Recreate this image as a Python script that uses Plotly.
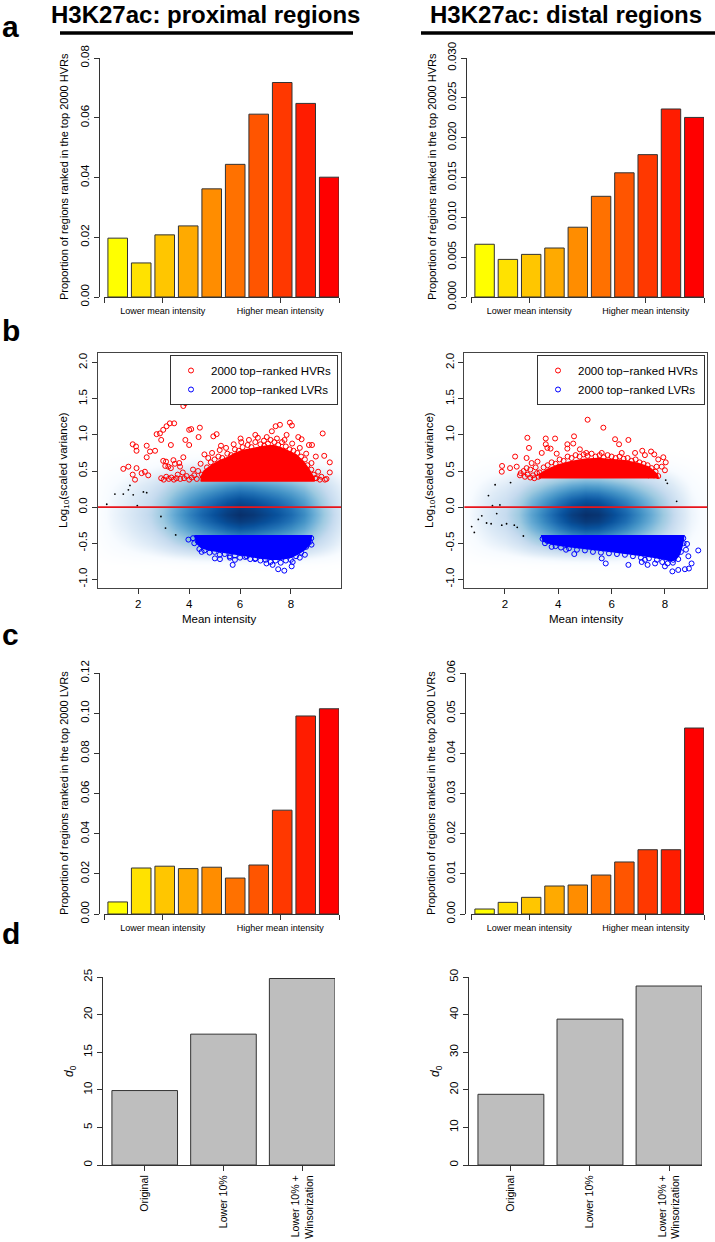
import plotly.graph_objects as go
import numpy as np

W, H = 715, 1242
FONT = "Liberation Sans, Arial, sans-serif"

# ---------------- data ----------------
bins = list(range(1, 11))
hvr_prox = [0.0197, 0.0114, 0.0208, 0.0238, 0.0362, 0.0444, 0.0612, 0.0718, 0.0648, 0.0401]
hvr_dist = [0.00662, 0.00472, 0.00535, 0.00615, 0.00876, 0.01264, 0.01559, 0.01787, 0.02360, 0.02254]
lvr_prox = [0.0060, 0.0229, 0.0238, 0.0226, 0.0233, 0.0179, 0.0244, 0.0517, 0.0986, 0.1022]
lvr_dist = [0.00124, 0.0029, 0.00415, 0.00697, 0.00722, 0.0097, 0.01295, 0.0160, 0.0160, 0.0463]
bin_colors = ["#FFFF00", "#FFE200", "#FFC600", "#FFAA00", "#FF8D00",
              "#FF7100", "#FF5500", "#FF3800", "#FF1C00", "#FF0000"]
intensity_ticks = [2.9167, 7.9167]
intensity_labels = ["Lower mean intensity", "Higher mean intensity"]
intensity_end_ticks = [0.4167, 10.4167]

d0_methods = ["Original", "Lower 10%", "Lower 10% +<br>Winsorization"]
d0_prox = [9.9, 17.4, 24.8]
d0_dist = [18.8, 38.8, 47.6]

# density cloud profiles
dens_x = [0.0, 0.5, 1.0, 1.5, 2.0, 2.5, 3.0, 3.5, 4.0, 4.5, 5.0, 5.5, 6.0, 6.5, 7.0, 7.5, 8.0, 8.5, 9.0, 9.5, 10.0]
dens_y = [-1.2, -1.1, -1.0, -0.9, -0.8, -0.7, -0.6, -0.5, -0.4, -0.3, -0.2, -0.1, 0.0, 0.1, 0.2, 0.3, 0.4, 0.5, 0.6, 0.7, 0.8, 0.9]
prox_dens_xprof = [0.0, 0.05, 0.12, 0.18, 0.25, 0.33, 0.45, 0.58, 0.7, 0.8, 0.88, 0.95, 1.0, 0.97, 0.92, 0.86, 0.78, 0.67, 0.52, 0.36, 0.2]
prox_dens_yprof = [0, 0, 0, 0, 0.03, 0.18, 0.38, 0.56, 0.72, 0.85, 0.95, 1.0, 0.96, 0.88, 0.78, 0.66, 0.5, 0.32, 0.16, 0.06, 0.01, 0]
dist_dens_xprof = [0.0, 0.06, 0.14, 0.22, 0.3, 0.42, 0.58, 0.72, 0.84, 0.94, 1.0, 0.98, 0.9, 0.8, 0.68, 0.55, 0.4, 0.25, 0.12, 0.05, 0.02]
dist_dens_yprof = [0, 0, 0, 0, 0.03, 0.16, 0.36, 0.55, 0.72, 0.86, 0.96, 1.0, 0.95, 0.86, 0.74, 0.6, 0.44, 0.27, 0.12, 0.04, 0, 0]

# HVR / LVR points, proximal
prox_hvr_x = [1.41, 1.61, 1.78, 1.87, 1.78, 1.91, 1.93, 1.93, 2.33, 2.33, 2.46, 2.13, 2.26, 2.39, 2.66, 2.72, 2.85, 2.98, 3.11, 3.24,
              3.41, 2.90, 2.98, 3.06, 3.28, 3.28, 3.38, 3.61, 3.77, 3.77, 3.85, 3.85, 4.0, 4.0, 4.08, 4.42, 4.37, 4.95, 5.08, 5.25,
              6.02, 6.60, 6.94, 7.25, 7.40, 7.57, 7.96, 8.04, 7.83, 8.29, 8.42, 8.71, 8.83, 9.25, 9.31, 9.53, 9.53, 9.14, 9.40,
              2.9, 3.0, 3.1, 3.2, 3.3, 3.4, 3.5, 3.55, 3.65, 3.8, 3.9, 4.0, 4.1, 4.2, 4.3, 4.35, 3.75, 4.15, 3.09, 3.18, 3.44, 3.64,
              4.45, 4.6, 4.75, 8.81, 8.98, 9.07, 9.2, 9.34, 8.95,
              4.5, 4.7, 4.85, 5.0, 5.15, 5.3, 5.5, 5.65, 5.8, 5.95, 6.1, 6.3, 6.45, 6.6, 6.8, 6.95, 7.1, 7.2, 7.35, 7.5, 7.65,
              7.8, 7.95, 8.1, 8.25, 8.4, 8.55, 8.65, 8.8, 8.9, 9.0,
              4.9, 5.2, 5.45, 5.75, 6.05, 6.35, 6.7, 7.05, 7.45, 7.75, 8.05, 8.35, 8.6]
prox_hvr_y = [0.53, 0.56, 0.45, 0.38, 0.87, 0.84, 0.78, 0.54, 0.85, 0.69, 0.77, 0.47, 0.49, 0.44, 0.78, 1.01, 1.02, 1.07, 1.12, 1.16,
              1.16, 0.93, 0.64, 0.57, 0.86, 0.54, 0.65, 0.61, 0.69, 1.40, 1.44, 0.93, 0.86, 1.07, 1.08, 1.10, 0.97, 0.98, 1.01, 0.85,
              0.95, 1.00, 0.92, 1.05, 1.12, 1.14, 1.17, 1.13, 1.00, 0.97, 0.94, 0.86, 0.86, 1.02, 0.71, 0.62, 0.48, 0.38, 0.39,
              0.40, 0.38, 0.42, 0.39, 0.41, 0.38, 0.40, 0.45, 0.39, 0.40, 0.43, 0.38, 0.41, 0.44, 0.39, 0.50, 0.48, 0.52, 0.63, 0.56, 0.60, 0.56,
              0.60, 0.73, 0.68, 0.61, 0.70, 0.49, 0.42, 0.38, 0.40,
              0.45, 0.55, 0.62, 0.66, 0.70, 0.68, 0.74, 0.72, 0.80, 0.78, 0.83, 0.86, 0.83, 0.90, 0.87, 0.85, 0.88, 0.93, 0.90, 0.86, 0.90,
              0.84, 0.80, 0.78, 0.75, 0.70, 0.66, 0.58, 0.52, 0.45, 0.40,
              0.75, 0.79, 0.82, 0.87, 0.90, 0.93, 0.96, 0.97, 0.95, 0.93, 0.88, 0.82, 0.74]
prox_hvr_band_x = [4.45, 4.6, 4.9, 5.2, 5.5, 5.8, 6.1, 6.4, 6.7, 7.0, 7.3, 7.6, 7.9, 8.2, 8.5, 8.7, 8.9, 8.9, 4.45]
prox_hvr_band_y = [0.40, 0.50, 0.58, 0.64, 0.68, 0.74, 0.78, 0.80, 0.83, 0.84, 0.85, 0.82, 0.77, 0.72, 0.62, 0.52, 0.40, 0.365, 0.365]

prox_lvr_x = [3.97, 4.49, 5.01, 5.21, 5.60, 5.71, 5.80, 6.26, 6.59, 7.04, 7.28, 7.50, 7.74, 8.03, 8.07, 8.55, 8.81, 8.35,
              4.2, 4.4, 4.6, 4.8, 5.0, 5.2, 5.4, 5.6, 5.8, 6.0, 6.2, 6.4, 6.6, 6.8, 7.0, 7.2, 7.4, 7.6, 7.8, 8.0, 8.2, 8.4,
              8.6, 8.75, 4.15, 8.8]
prox_lvr_y = [-0.45, -0.62, -0.71, -0.72, -0.70, -0.80, -0.73, -0.68, -0.72, -0.78, -0.80, -0.86, -0.88, -0.82, -0.76, -0.66, -0.52, -0.70,
              -0.50, -0.58, -0.60, -0.63, -0.62, -0.66, -0.65, -0.68, -0.67, -0.70, -0.69, -0.72, -0.71, -0.74, -0.73, -0.76, -0.74, -0.77, -0.74, -0.73, -0.68, -0.63,
              -0.55, -0.48, -0.43, -0.43]
prox_lvr_band_x = [4.2, 8.8, 8.75, 8.55, 8.3, 8.0, 7.6, 7.2, 6.8, 6.4, 6.0, 5.6, 5.2, 4.8, 4.5, 4.25]
prox_lvr_band_y = [-0.40, -0.40, -0.50, -0.58, -0.64, -0.69, -0.72, -0.72, -0.70, -0.68, -0.66, -0.64, -0.62, -0.59, -0.56, -0.48]

prox_out_x = [0.76, 1.08, 1.41, 1.61, 1.67, 1.80, 2.2, 2.33, 1.96, 2.89, 3.07, 3.47]
prox_out_y = [0.04, 0.18, 0.18, 0.24, 0.30, 0.17, 0.21, 0.20, 0.02, -0.13, -0.29, -0.385]

# HVR / LVR points, distal
dist_hvr_x = [1.89, 1.88, 2.19, 2.38, 2.44, 2.59, 2.56, 2.84, 2.81, 2.90, 2.81, 3.0, 3.22, 3.38, 3.53, 3.53, 3.59, 3.71, 3.88, 3.94,
              4.34, 4.34, 4.56, 4.59, 4.81, 5.1, 5.05, 5.69, 5.63, 6.13, 6.28, 6.63, 6.38, 6.88, 7.15, 7.25, 7.48, 7.60, 7.75, 7.94,
              8.03, 7.69, 7.88, 8.0, 7.59, 7.38, 7.06, 7.15,
              2.75, 2.85, 2.95, 3.05, 3.1, 3.2, 3.25, 2.7, 2.95, 3.15,
              3.3, 3.45, 3.6, 3.75, 3.9, 4.05, 4.2, 4.35, 4.5, 4.65, 4.8, 4.95, 5.1, 5.25, 5.4, 5.55, 5.7, 5.85, 6.0, 6.15,
              6.3, 6.45, 6.6, 6.75, 6.9, 7.05, 7.2, 7.35, 7.5, 7.65, 7.75]
dist_hvr_y = [0.57, 0.49, 0.54, 0.70, 0.56, 0.47, 0.44, 0.96, 0.68, 0.82, 0.54, 0.61, 0.63, 0.75, 0.95, 0.87, 0.82, 0.81, 0.95, 0.74,
              0.87, 0.81, 0.88, 0.98, 0.80, 1.21, 0.75, 1.10, 0.75, 0.94, 0.87, 0.93, 0.75, 0.75, 0.78, 0.72, 0.77, 0.73, 0.66, 0.69,
              0.62, 0.56, 0.56, 0.51, 0.44, 0.44, 0.46, 0.49,
              0.42, 0.45, 0.41, 0.44, 0.40, 0.47, 0.42, 0.50, 0.52, 0.55,
              0.48, 0.55, 0.58, 0.62, 0.60, 0.66, 0.64, 0.70, 0.68, 0.72, 0.70, 0.73, 0.71, 0.74, 0.70, 0.72, 0.69, 0.72, 0.70, 0.68,
              0.70, 0.67, 0.68, 0.64, 0.66, 0.62, 0.60, 0.58, 0.54, 0.49, 0.43]
dist_hvr_band_x = [3.3, 3.3, 3.6, 4.0, 4.5, 5.0, 5.5, 6.0, 6.5, 7.0, 7.4, 7.7, 7.75]
dist_hvr_band_y = [0.395, 0.45, 0.52, 0.58, 0.63, 0.66, 0.67, 0.66, 0.64, 0.60, 0.55, 0.45, 0.395]

dist_lvr_x = [3.41, 3.59, 3.75, 4.29, 4.6, 5.63, 5.78, 6.63, 7.13, 7.35, 7.63, 8.0, 8.28, 8.5, 8.75, 8.9, 9.0, 8.69, 8.83, 8.79,
              8.88, 9.25, 8.44, 8.31, 7.25,
              3.5, 3.9, 4.1, 4.4, 4.7, 5.0, 5.3, 5.6, 5.9, 6.2, 6.5, 6.8, 7.1, 7.4, 7.7, 7.9, 8.1, 8.3, 8.5, 8.6, 8.7]
dist_lvr_y = [-0.44, -0.47, -0.55, -0.59, -0.65, -0.71, -0.78, -0.80, -0.76, -0.80, -0.78, -0.82, -0.89, -0.87, -0.86, -0.85, -0.78, -0.43, -0.51, -0.59,
              -0.68, -0.60, -0.66, -0.73, -0.73,
              -0.50, -0.54, -0.56, -0.57, -0.59, -0.60, -0.62, -0.63, -0.64, -0.65, -0.66, -0.68, -0.70, -0.71, -0.73, -0.76, -0.78, -0.77, -0.72, -0.62, -0.50]
dist_lvr_band_x = [3.35, 8.7, 8.65, 8.55, 8.4, 8.2, 8.0, 7.6, 7.0, 6.5, 6.0, 5.5, 5.0, 4.3, 3.8, 3.4]
dist_lvr_band_y = [-0.40, -0.40, -0.52, -0.64, -0.72, -0.74, -0.72, -0.69, -0.66, -0.63, -0.61, -0.59, -0.57, -0.54, -0.51, -0.46]

dist_out_x = [0.75, 0.85, 1.0, 1.13, 1.31, 1.38, 1.48, 1.53, 1.63, 1.69, 1.81, 1.88, 2.06, 2.21, 2.35, 2.46, 2.69, 8.03, 8.09, 8.44]
dist_out_y = [-0.27, -0.35, -0.17, -0.12, -0.22, 0.16, -0.23, 0.02, 0.31, -0.09, 0.03, -0.25, -0.23, 0.34, -0.25, -0.28, -0.40, 0.375, 0.33, 0.08]

HVR_LABEL = "2000 top\u2212ranked HVRs"
LVR_LABEL = "2000 top\u2212ranked LVRs"

# ---------------- helpers ----------------
def fx(p):
    return p / W


def fy(p):
    return 1 - p / H


AXC = "#333333"
TICKF = dict(family=FONT, size=11.5, color="black")

blues = [[0.0, "#FFFFFF"], [0.08, "#F7FBFF"], [0.18, "#DEEBF7"], [0.30, "#C6DBEF"], [0.42, "#9ECAE1"],
         [0.54, "#6BAED6"], [0.65, "#4292C6"], [0.76, "#2171B5"], [0.87, "#08519C"], [1.0, "#08306B"]]

fig = go.Figure()

# ---------------- bar panels a / c ----------------
bar_panels = [
    ("x", "y", hvr_prox),
    ("x2", "y2", hvr_dist),
    ("x5", "y5", lvr_prox),
    ("x6", "y6", lvr_dist),
]
for xa, ya, vals in bar_panels:
    fig.add_trace(go.Bar(x=bins, y=vals, xaxis=xa, yaxis=ya, marker=dict(color=bin_colors, line=dict(color=AXC, width=1)),
                         showlegend=False, hoverinfo="skip"))

# ---------------- d panels ----------------
for xa, ya, vals in [("x7", "y7", d0_prox), ("x8", "y8", d0_dist)]:
    fig.add_trace(go.Bar(x=d0_methods, y=vals, xaxis=xa, yaxis=ya, marker=dict(color="#BEBEBE", line=dict(color=AXC, width=1)),
                         showlegend=False, hoverinfo="skip"))

# ---------------- b panels ----------------
b_panels = [
    ("x3", "y3", "legend", prox_dens_xprof, prox_dens_yprof,
     prox_hvr_band_x, prox_hvr_band_y, prox_hvr_x, prox_hvr_y,
     prox_lvr_band_x, prox_lvr_band_y, prox_lvr_x, prox_lvr_y, prox_out_x, prox_out_y),
    ("x4", "y4", "legend2", dist_dens_xprof, dist_dens_yprof,
     dist_hvr_band_x, dist_hvr_band_y, dist_hvr_x, dist_hvr_y,
     dist_lvr_band_x, dist_lvr_band_y, dist_lvr_x, dist_lvr_y, dist_out_x, dist_out_y),
]
for (xa, ya, lg, dxp, dyp, hbx, hby, hx, hy, lbx, lby, lx, ly, ox, oy) in b_panels:
    z = np.outer(np.array(dyp), np.array(dxp))
    fig.add_trace(go.Heatmap(x=dens_x, y=dens_y, z=z, xaxis=xa, yaxis=ya, colorscale=blues, zmin=0, zmax=1,
                             zsmooth="best", showscale=False, hoverinfo="skip"))
    fig.add_trace(go.Scatter(x=ox, y=oy, xaxis=xa, yaxis=ya, mode="markers",
                             marker=dict(color="black", size=1.8), showlegend=False, hoverinfo="skip"))
    fig.add_trace(go.Scatter(x=hbx, y=hby, xaxis=xa, yaxis=ya, mode="lines", fill="toself", fillcolor="#FF0000",
                             line=dict(color="#FF0000", width=2), showlegend=False, hoverinfo="skip"))
    fig.add_trace(go.Scatter(x=lbx, y=lby, xaxis=xa, yaxis=ya, mode="lines", fill="toself", fillcolor="#0000FF",
                             line=dict(color="#0000FF", width=2), showlegend=False, hoverinfo="skip"))
    fig.add_trace(go.Scatter(x=hx, y=hy, xaxis=xa, yaxis=ya, mode="markers", name=HVR_LABEL, legend=lg,
                             marker=dict(symbol="circle-open", color="#FF0000", size=5, line=dict(width=1)),
                             hoverinfo="skip"))
    fig.add_trace(go.Scatter(x=lx, y=ly, xaxis=xa, yaxis=ya, mode="markers", name=LVR_LABEL, legend=lg,
                             marker=dict(symbol="circle-open", color="#0000FF", size=5, line=dict(width=1)),
                             hoverinfo="skip"))

# ---------------- layout ----------------
layout = dict(width=W, height=H, margin=dict(l=0, r=0, t=0, b=0, autoexpand=False), paper_bgcolor="white",
              plot_bgcolor="white", template="none",
              bargap=1 / 6, font=dict(family=FONT, color="black"), showlegend=True)

left_bar_dom = [fx(104), fx(339)]
right_bar_dom = [fx(471), fx(704)]


def bar_x(dom, anchor):
    return dict(domain=dom, anchor=anchor, range=[0.4167, 10.4167], tickmode="array", tickvals=intensity_ticks,
                ticktext=intensity_labels, ticks="outside", ticklen=5, tickcolor=AXC, showline=True, linecolor=AXC,
                linewidth=1, showgrid=False, zeroline=False, automargin=False,
                tickfont=dict(family=FONT, size=9, color="black"),
                minor=dict(tickmode="array", tickvals=intensity_end_ticks, ticks="outside", ticklen=5,
                           tickcolor=AXC, showgrid=False))


def bar_y(dom, pos, ymax, dt, fmt):
    return dict(domain=dom, anchor="free", position=pos, range=[0, ymax], tickmode="linear", tick0=0, dtick=dt,
                tickformat=fmt, tickangle=-90, ticks="outside", ticklen=5, tickcolor=AXC, showline=True,
                linecolor=AXC, linewidth=1, showgrid=False, zeroline=False, automargin=False, tickfont=TICKF)


layout["xaxis"] = bar_x(left_bar_dom, "y")
layout["yaxis"] = bar_y([fy(297), fy(58)], fx(98.5), 0.08, 0.02, ".2f")
layout["xaxis2"] = bar_x(right_bar_dom, "y2")
layout["yaxis2"] = bar_y([fy(297), fy(58)], fx(465.5), 0.030, 0.005, ".3f")
layout["xaxis5"] = bar_x(left_bar_dom, "y5")
layout["yaxis5"] = bar_y([fy(914), fy(673)], fx(99), 0.12, 0.02, ".2f")
layout["xaxis6"] = bar_x(right_bar_dom, "y6")
layout["yaxis6"] = bar_y([fy(914), fy(673)], fx(464.5), 0.06, 0.01, ".2f")


def b_x(dom, anchor, rng):
    return dict(domain=dom, anchor=anchor, range=rng, tickmode="array", tickvals=[2, 4, 6, 8], ticks="outside",
                ticklen=5, tickcolor=AXC, showline=True, mirror=True, linecolor="#444444", linewidth=1.2,
                showgrid=False, zeroline=False, automargin=False, tickfont=TICKF)


def b_y(dom, anchor):
    return dict(domain=dom, anchor=anchor, range=[-1.12, 2.134], tickmode="array",
                tickvals=[-1, -0.5, 0, 0.5, 1, 1.5, 2],
                ticktext=["-1.0", "-0.5", "0.0", "0.5", "1.0", "1.5", "2.0"], tickangle=-90, ticks="outside",
                ticklen=5, tickcolor=AXC, showline=True, mirror=True, linecolor="#444444", linewidth=1.2,
                showgrid=False, zeroline=False, automargin=False, tickfont=TICKF)


b_ydom = [fy(588), fy(353)]
layout["xaxis3"] = b_x([fx(98), fx(341)], "y3", [0.415, 9.97])
layout["yaxis3"] = b_y(b_ydom, "x3")
layout["xaxis4"] = b_x([fx(464.3), fx(707.3)], "y4", [0.474, 9.59])
layout["yaxis4"] = b_y(b_ydom, "x4")


def d_x(dom, anchor):
    return dict(domain=dom, anchor=anchor, type="category", range=[-0.53, 2.4167], ticks="outside", ticklen=5,
                tickcolor=AXC, tickangle=-90, showline=True, linecolor=AXC, linewidth=1, showgrid=False,
                zeroline=False, automargin=False, tickfont=dict(family=FONT, size=10.6, color="black"))


def d_y(dom, anchor, ymax, dt):
    return dict(domain=dom, anchor=anchor, range=[0, ymax], tickmode="linear", tick0=0, dtick=dt, tickangle=-90,
                ticks="outside", ticklen=5, tickcolor=AXC, showline=True, linecolor=AXC, linewidth=1,
                showgrid=False, zeroline=False, automargin=False, tickfont=TICKF)


d_ydom = [fy(1165), fy(977)]
layout["xaxis7"] = d_x([fx(103), fx(335)], "y7")
layout["yaxis7"] = d_y(d_ydom, "x7", 25, 5)
layout["xaxis8"] = d_x([fx(469), fx(702)], "y8")
layout["yaxis8"] = d_y(d_ydom, "x8", 50, 10)

legend_common = dict(bgcolor="white", bordercolor="#333333", borderwidth=1, font=dict(family=FONT, size=11.5),
                     xanchor="right", yanchor="top", itemwidth=30, tracegroupgap=0)
layout["legend"] = dict(x=fx(338), y=fy(355), **legend_common)
layout["legend2"] = dict(x=fx(705), y=fy(355), **legend_common)

shapes = [
    dict(type="line", xref="paper", yref="paper", x0=fx(60), x1=fx(353), y0=fy(33), y1=fy(33),
         line=dict(color="black", width=3.5)),
    dict(type="line", xref="paper", yref="paper", x0=fx(421), x1=fx(715), y0=fy(33), y1=fy(33),
         line=dict(color="black", width=3.5)),
    dict(type="line", xref="x3 domain", yref="y3", x0=0, x1=1, y0=0, y1=0, line=dict(color="#E8141B", width=1.6)),
    dict(type="line", xref="x4 domain", yref="y4", x0=0, x1=1, y0=0, y1=0, line=dict(color="#E8141B", width=1.6)),
]
layout["shapes"] = shapes


def ann(text, x, y, size, angle=0, bold=False, xanchor="center"):
    return dict(text=("<b>%s</b>" % text) if bold else text, x=fx(x), y=fy(y), xref="paper", yref="paper",
                showarrow=False, textangle=angle, xanchor=xanchor, yanchor="middle",
                font=dict(family=FONT, size=size, color="black"))


annotations = [
    ann("H3K27ac: proximal regions", 205, 14, 24, bold=True),
    ann("H3K27ac: distal regions", 566, 14, 24, bold=True),
    ann("a", 0, 27, 30, bold=True, xanchor="left"),
    ann("b", 0, 330, 30, bold=True, xanchor="left"),
    ann("c", 0, 634, 30, bold=True, xanchor="left"),
    ann("d", 0, 933, 30, bold=True, xanchor="left"),
    ann("Proportion of regions ranked in the top 2000 HVRs", 64, 177, 11, angle=-90),
    ann("Proportion of regions ranked in the top 2000 HVRs", 432, 177, 11, angle=-90),
    ann("Proportion of regions ranked in the top 2000 LVRs", 64, 793, 11, angle=-90),
    ann("Proportion of regions ranked in the top 2000 LVRs", 431, 793, 11, angle=-90),
    ann("Log<sub>10</sub>(scaled variance)", 64, 470, 11.5, angle=-90),
    ann("Log<sub>10</sub>(scaled variance)", 430, 470, 11.5, angle=-90),
    ann("Mean intensity", 219, 619, 11.5),
    ann("Mean intensity", 586, 619, 11.5),
    ann("<i>d</i><sub>0</sub>", 70, 1071, 12, angle=-90),
    ann("<i>d</i><sub>0</sub>", 436, 1071, 12, angle=-90),
]
layout["annotations"] = annotations

fig.update_layout(**layout)
fig.write_html("out.html", config={"displayModeBar": False},
               post_script="document.body.style.margin='0px';document.body.style.overflow='hidden';")
